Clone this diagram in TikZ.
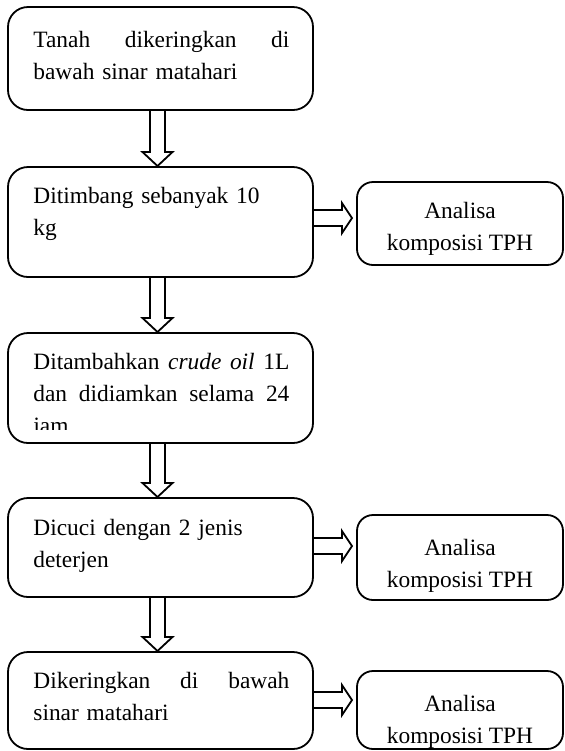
\documentclass[tikz,border=0pt]{standalone}
\usepackage{fontspec}
\setmainfont{Liberation Serif}
\usetikzlibrary{calc}
\begin{document}
\begin{tikzpicture}[x=0.5pt,y=-0.5pt,
  box/.style={draw,line width=0.9pt,rounded corners=10pt,inner sep=0pt,outer sep=0pt,minimum width=152.5pt},
  abox/.style={draw,line width=0.9pt,rounded corners=8pt,inner sep=0pt,outer sep=0pt,minimum width=103pt},
  txt/.style={anchor=base west,inner sep=0pt,text width=128pt,align=left,font=\fontsize{11.7}{16}\selectfont},
  atxt/.style={anchor=base,inner sep=0pt,align=center,font=\fontsize{11.7}{16}\selectfont},
  blockarrow/.style={draw,line width=0.9pt,line join=miter}
]
\useasboundingbox (0,0) rectangle (564,751);
% main boxes
\node[box,minimum height=51.5pt] (b1) at (160.5,58.5) {};
\node[box,minimum height=55pt] (b2) at (160.5,222) {};
\node[box,minimum height=55pt] (b3) at (160.5,388) {};
\node[box,minimum height=49.5pt] (b4) at (160.5,547.5) {};
\node[box,minimum height=48.5pt] (b5) at (160.5,700.5) {};
% analysis boxes
\node[abox,minimum height=41.5pt] (a1) at (460,223.5) {};
\node[abox,minimum height=42.5pt] (a2) at (460,557.5) {};
\node[abox,minimum height=39pt] (a3) at (460,710) {};
% texts
\node[txt] (t1) at (33,47) {Tanah\hfill dikeringkan\hfill di\\bawah sinar matahari};
\node[txt] (t2) at (33,203) {Ditimbang sebanyak 10\\kg};
\begin{scope}
  \clip (8,333) rectangle (313,429);
  \node[txt] (t3) at (33,369) {Ditambahkan\hfill{} \textit{crude}\hfill{} \textit{oil}\hfill{} 1L\\dan\hfill didiamkan\hfill selama\hfill 24\\jam};
\end{scope}
\node[txt] (t4) at (33,535) {Dicuci dengan 2 jenis\\deterjen};
\node[txt] (t5) at (33,688) {Dikeringkan\hfill di\hfill bawah\\sinar matahari};
\node[atxt] (k1) at (460,250) {Analisa\\komposisi TPH};
\node[atxt] (k2) at (460,587) {Analisa\\komposisi TPH};
\node[atxt] (k3) at (460,743) {Analisa\\komposisi TPH};
% vertical block arrows
\foreach \p/\q in {b1/b2,b2/b3,b3/b4,b4/b5}{
  \draw[blockarrow] ($(\p.south)+(-10.5,0)$) -- ($(\q.north)+(-10.5,-15)$)
    -- ($(\q.north)+(-18,-15)$) -- ($(\q.north)+(-3,-1)$) -- ($(\q.north)+(12,-15)$)
    -- ($(\q.north)+(4.5,-15)$) -- ($(\p.south)+(4.5,0)$);
}
% horizontal block arrows
\foreach \p/\q/\dy in {b2/a1/-4,b4/a2/-1.5,b5/a3/-0.5}{
  \coordinate (s) at ($(\p.east)+(0,\dy)$);
  \coordinate (e) at ($(\q.west |- s)+(-5,0)$);
  \draw[blockarrow] ($(s)+(0,-8)$) -- ($(e)+(-10,-8)$) -- ($(e)+(-10,-15)$) -- (e)
    -- ($(e)+(-10,15)$) -- ($(e)+(-10,8)$) -- ($(s)+(0,8)$);
}
\end{tikzpicture}
\end{document}
